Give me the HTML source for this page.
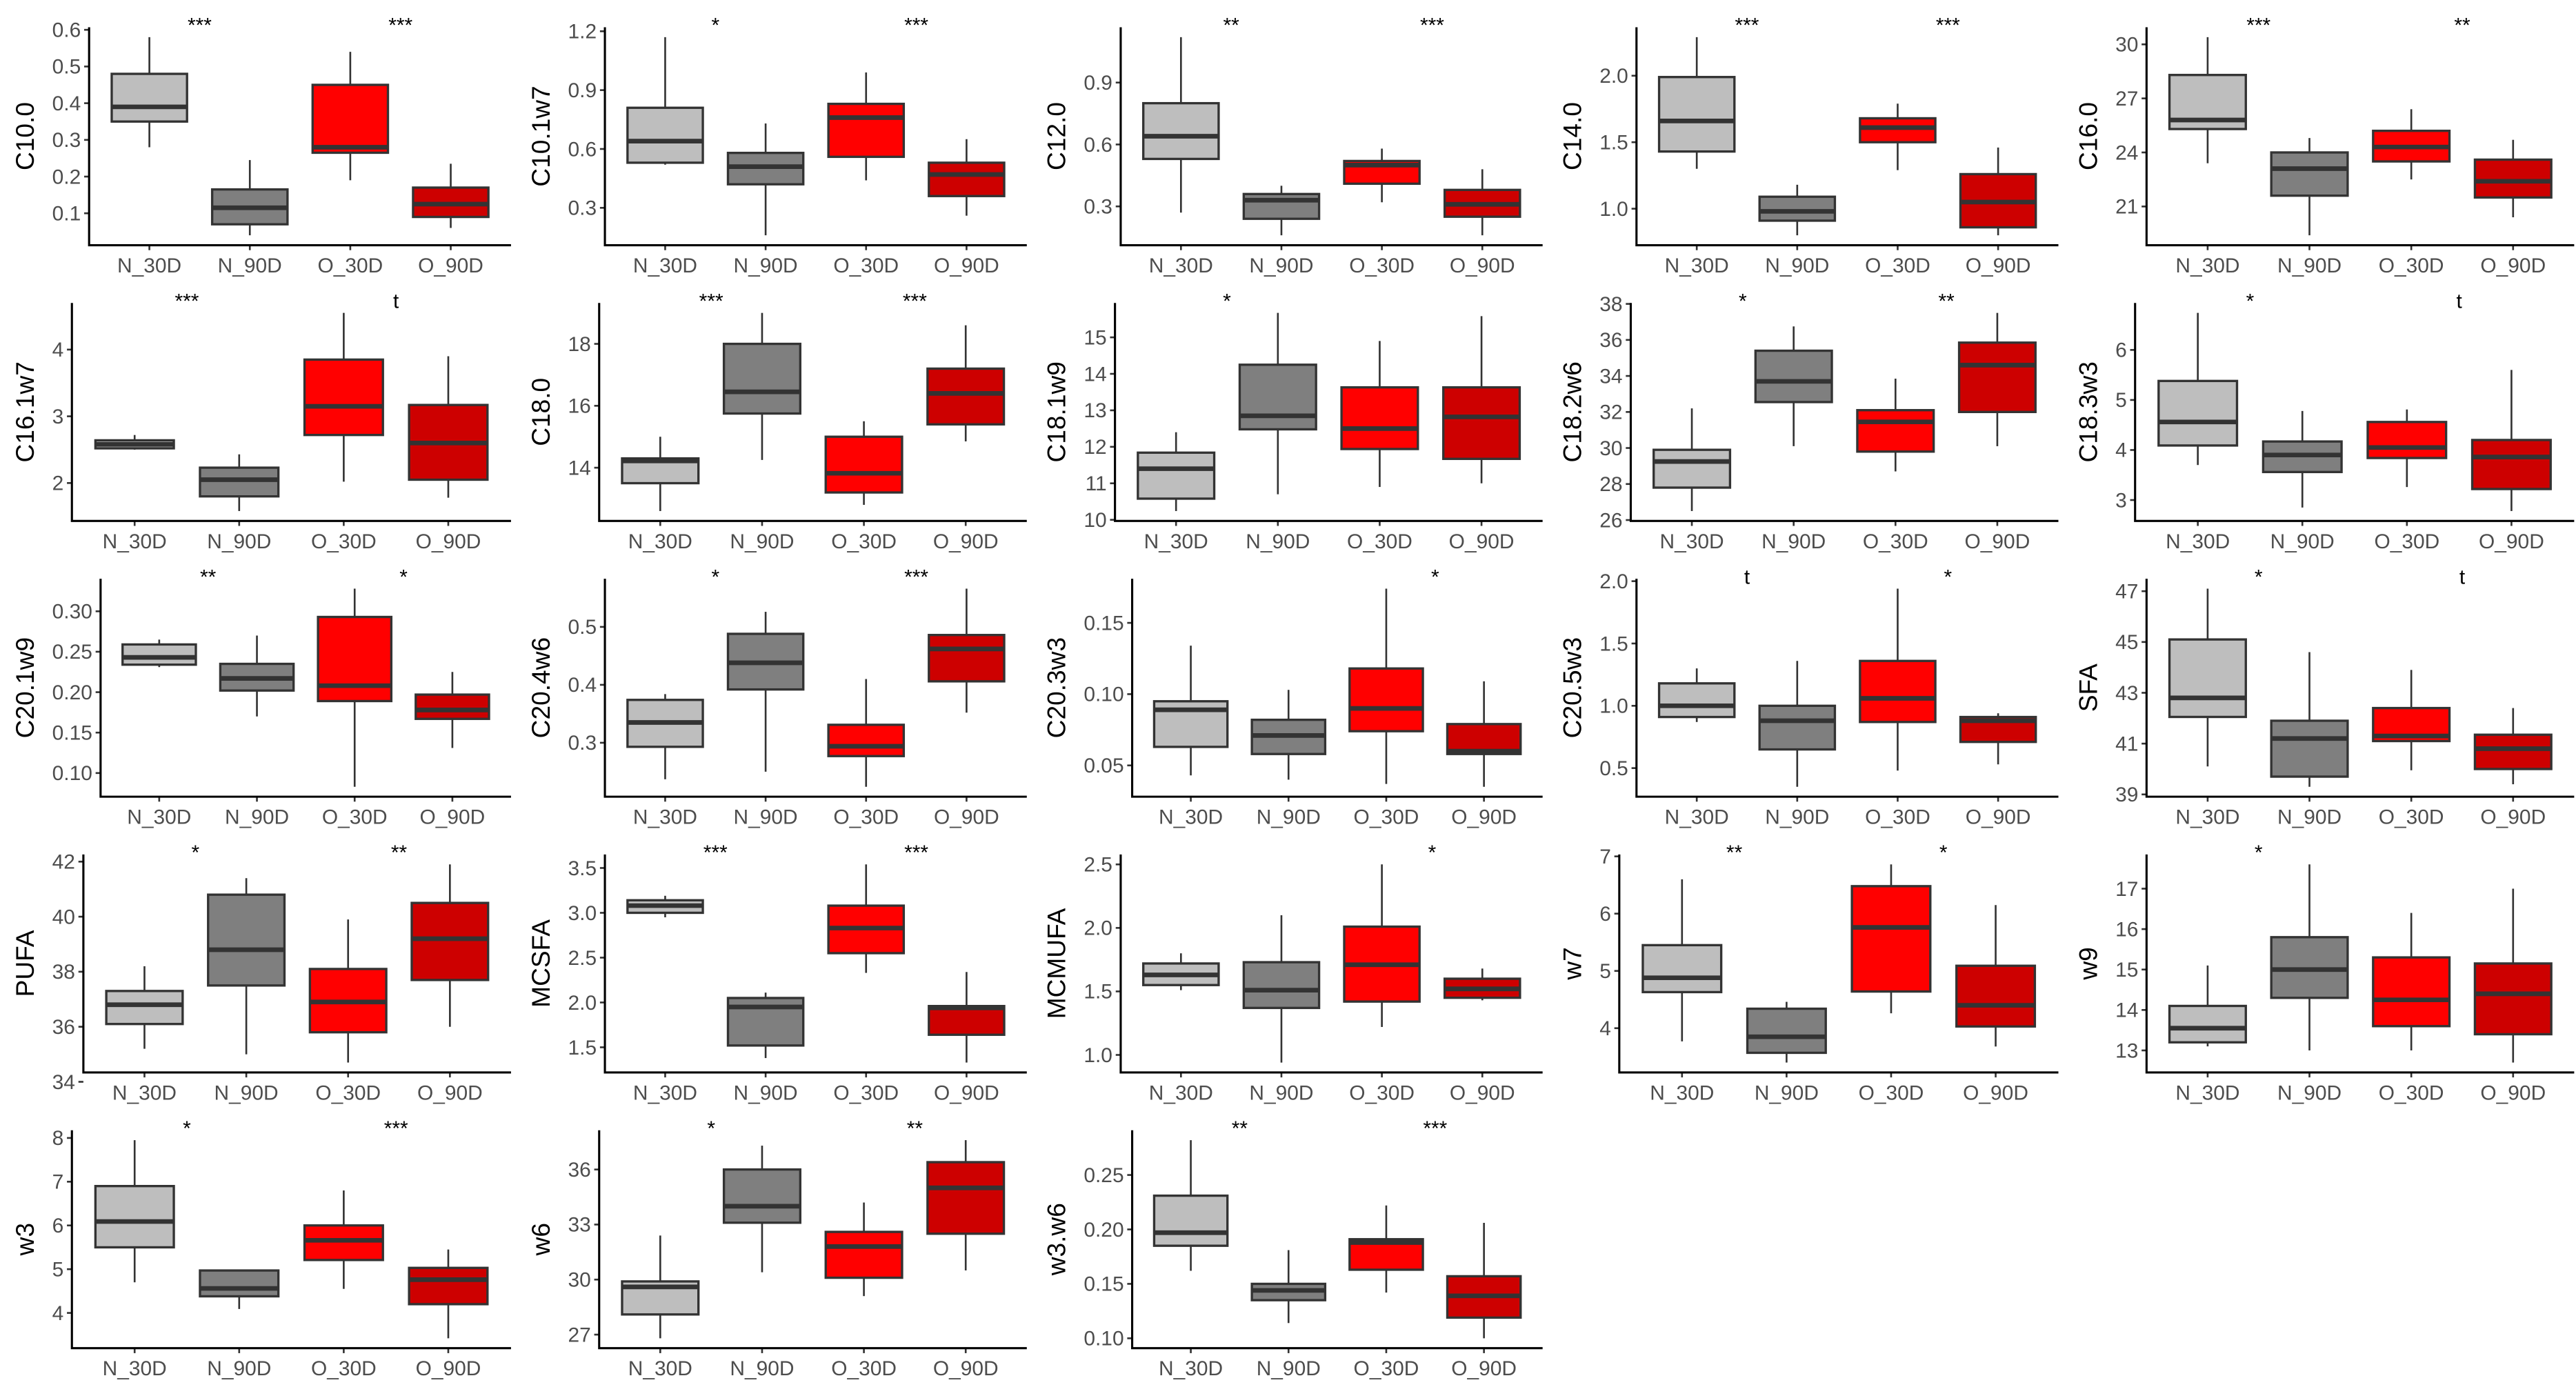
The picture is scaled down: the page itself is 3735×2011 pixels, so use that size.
<!DOCTYPE html>
<html><head><meta charset="utf-8"><style>
html,body{margin:0;padding:0;background:#fff;}
svg{display:block;}
</style></head><body>
<svg id="chart" width="3735" height="2011" viewBox="0 0 1560.2 840" preserveAspectRatio="none" xmlns="http://www.w3.org/2000/svg"></svg>
<script>
const categories = ["N_30D","N_90D","O_30D","O_90D"];
const fills = ["#bebebe","#7f7f7f","#ff0000","#cd0000"];
const panelNames = ["C10.0","C10.1w7","C12.0","C14.0","C16.0","C16.1w7","C18.0","C18.1w9","C18.2w6","C18.3w3","C20.1w9","C20.4w6","C20.3w3","C20.5w3","SFA","PUFA","MCSFA","MCMUFA","w7","w9","w3","w6","w3.w6"];
const yTicks = [
 ["0.1","0.2","0.3","0.4","0.5","0.6"],["0.3","0.6","0.9","1.2"],["0.3","0.6","0.9"],["1.0","1.5","2.0"],["21","24","27","30"],
 ["2","3","4"],["14","16","18"],["10","11","12","13","14","15"],["26","28","30","32","34","36","38"],["3","4","5","6"],
 ["0.10","0.15","0.20","0.25","0.30"],["0.3","0.4","0.5"],["0.05","0.10","0.15"],["0.5","1.0","1.5","2.0"],["39","41","43","45","47"],
 ["34","36","38","40","42"],["1.5","2.0","2.5","3.0","3.5"],["1.0","1.5","2.0","2.5"],["4","5","6","7"],["13","14","15","16","17"],
 ["4","5","6","7","8"],["27","30","33","36"],["0.10","0.15","0.20","0.25"]];
const lowW = [
 [.28,.04,.19,.06],[.52,.16,.44,.26],[.27,.16,.32,.16],[1.30,.80,1.29,.80],[23.4,19.4,22.5,20.4],
 [2.5,1.58,2.02,1.78],[12.6,14.25,12.8,14.85],[10.24,10.7,10.9,11.0],[26.5,30.1,28.7,30.1],[3.7,2.85,3.26,2.78],
 [.231,.17,.083,.131],[.237,.25,.224,.352],[.043,.040,.037,.035],[.87,.35,.48,.53],[40.1,39.3,39.95,39.4],
 [35.2,35.0,34.7,36.0],[2.95,1.38,2.33,1.33],[1.51,.94,1.22,1.43],[3.77,3.4,4.26,3.68],[13.1,13.0,13.0,12.7],
 [4.7,4.09,4.55,3.42],[26.8,30.4,29.1,30.5],[.162,.114,.142,.10]];
const q1 = [
 [.35,.07,.265,.09],[.53,.42,.56,.36],[.53,.24,.41,.25],[1.43,.91,1.50,.86],[25.3,21.6,23.5,21.5],
 [2.52,1.8,2.72,2.05],[13.5,15.75,13.2,15.4],[10.58,12.48,11.94,11.67],[27.8,32.55,29.8,32.0],[4.09,3.56,3.84,3.22],
 [.234,.202,.189,.167],[.293,.392,.277,.406],[.063,.058,.074,.058],[.91,.65,.87,.71],[42.05,39.7,41.1,40.0],
 [36.1,37.5,35.8,37.7],[3.0,1.52,2.55,1.64],[1.55,1.37,1.42,1.45],[4.63,3.57,4.64,4.03],[13.2,14.3,13.6,13.4],
 [5.5,4.38,5.21,4.2],[28.1,33.1,30.1,32.5],[.185,.135,.163,.119]];
const med = [
 [.39,.115,.28,.125],[.64,.51,.76,.47],[.64,.33,.50,.31],[1.66,.98,1.61,1.05],[25.8,23.1,24.3,22.4],
 [2.58,2.05,3.15,2.6],[14.22,16.45,13.82,16.4],[11.4,12.85,12.5,12.82],[29.25,33.7,31.45,34.6],[4.56,3.9,4.05,3.86],
 [.243,.217,.208,.178],[.335,.438,.294,.462],[.089,.071,.09,.06],[1.0,.88,1.06,.88],[42.8,41.2,41.3,40.8],
 [36.8,38.8,36.9,39.2],[3.08,1.95,2.83,1.94],[1.63,1.51,1.71,1.52],[4.88,3.85,5.76,4.4],[13.55,15.0,14.25,14.4],
 [6.09,4.56,5.66,4.76],[29.6,34.0,31.8,35.0],[.197,.144,.188,.139]];
const q3 = [
 [.48,.165,.45,.17],[.81,.58,.83,.53],[.80,.36,.52,.38],[1.99,1.09,1.68,1.26],[28.3,24.0,25.2,23.6],
 [2.64,2.23,3.85,3.17],[14.3,18.0,15.0,17.2],[11.84,14.25,13.63,13.63],[29.9,35.4,32.1,35.85],[5.38,4.17,4.56,4.2],
 [.259,.235,.293,.197],[.374,.488,.331,.486],[.095,.082,.118,.079],[1.18,1.0,1.36,.91],[45.1,41.9,42.4,41.35],
 [37.3,40.8,38.1,40.5],[3.14,2.05,3.08,1.96],[1.72,1.73,2.01,1.6],[5.45,4.34,6.48,5.09],[14.1,15.8,15.3,15.15],
 [6.9,4.97,6.0,5.03],[29.9,36.0,32.6,36.4],[.231,.150,.191,.157]];
const highW = [
 [.58,.245,.54,.235],[1.17,.73,.99,.65],[1.12,.40,.58,.48],[2.29,1.18,1.79,1.46],[30.4,24.8,26.4,24.7],
 [2.72,2.43,4.55,3.9],[15.0,19.0,15.5,18.6],[12.4,15.67,14.9,15.58],[32.2,36.75,33.85,37.5],[6.74,4.78,4.81,5.6],
 [.265,.27,.328,.225],[.384,.526,.41,.566],[.134,.103,.174,.109],[1.30,1.36,1.94,.94],[47.1,44.6,43.9,42.4],
 [38.2,41.4,39.9,41.9],[3.19,2.11,3.54,2.34],[1.8,2.1,2.5,1.68],[6.6,4.46,6.86,6.15],[15.1,17.6,16.4,17.0],
 [7.95,4.99,6.8,5.45],[32.4,37.3,34.2,37.6],[.282,.181,.222,.206]];
const starsLeft  = ["***","*","**","***","***","***","***","*","*","*","**","*","","t","*","*","***","","**","*","*","*","**"];
const starsRight = ["***","***","***","***","**","t","***","","**","t","*","***","*","*","t","**","***","*","*","","***","**","***"];

const NS="http://www.w3.org/2000/svg";
const svg=document.getElementById('chart');
function mk(tag,attrs,parent){const e=document.createElementNS(NS,tag);for(const k in attrs)e.setAttribute(k,attrs[k]);(parent||svg).appendChild(e);return e;}
function textW(s){let w=0;for(const c of s)w+=(c==='.'?3.47:6.95);return w;}
const FONT='"Liberation Sans", Arial, sans-serif';

panelNames.forEach((name,p)=>{
  const r=Math.floor(p/5), c=p%5;
  const g=mk('g',{});
  
  
  const bottom=148.5+167*r, top=bottom-132;
  const maxW=Math.max(...yTicks[p].map(textW));
  const x0=54+312.4*c+(maxW-17.4);
  const xr=309.5+312.4*c;
  const s=(xr-x0)/4.2;
  let lo=Math.min(...lowW[p]), hi=Math.max(...highW[p]);
  const rg=hi-lo; const dmin=lo-0.05*rg, dmax=hi+0.05*rg;
  const ys=v=>bottom-(v-dmin)/(dmax-dmin)*(bottom-top);
  const xs=k=>x0+(0.6+k)*s;
  // y ticks
  yTicks[p].forEach(t=>{
    const y=ys(parseFloat(t));
    const tk=mk('line',{x1:x0-3,x2:x0,y1:y,y2:y,stroke:'#333',"stroke-width":1.1},g);
    
    
    const tl=mk('text',{x:x0-5,y:y+4.3,"text-anchor":"end","font-size":12.5,fill:'#4d4d4d',"font-family":FONT},g);
    tl.textContent=t;
    
    
  });
  // boxes
  categories.forEach((cat,k)=>{
    const cx=xs(k), bw=0.75*s;
    const bg=mk('g',{},g);
    
    
    mk('line',{x1:cx,x2:cx,y1:ys(highW[p][k]),y2:ys(q3[p][k]),stroke:'#333',"stroke-width":1.1},bg);
    mk('line',{x1:cx,x2:cx,y1:ys(q1[p][k]),y2:ys(lowW[p][k]),stroke:'#333',"stroke-width":1.1},bg);
    mk('rect',{x:cx-bw/2,y:ys(q3[p][k]),width:bw,height:Math.max(0.5,ys(q1[p][k])-ys(q3[p][k])),fill:fills[k],stroke:'#333',"stroke-width":1.4},bg);
    mk('line',{x1:cx-bw/2,x2:cx+bw/2,y1:ys(med[p][k]),y2:ys(med[p][k]),stroke:'#333',"stroke-width":2.8},bg);
    mk('line',{x1:cx,x2:cx,y1:bottom,y2:bottom+3,stroke:'#333',"stroke-width":1.1},g);
    const xl=mk('text',{x:cx,y:bottom+16.5,"text-anchor":"middle","font-size":12.5,fill:'#4d4d4d',"font-family":FONT},g);
    xl.textContent=cat;
    
    
  });
  // axes
  const ax=mk('path',{d:`M${x0} ${top} L${x0} ${bottom} L${xr} ${bottom}`,fill:'none',stroke:'#000',"stroke-width":1.3},g);
  
  
  // y title
  const ty=(top+bottom)/2, tx=15+312.4*c;
  const tt=mk('text',{x:tx,y:ty,transform:`rotate(-90 ${tx} ${ty})`,"text-anchor":"middle","dominant-baseline":"central","font-size":15.5,fill:'#000',"font-family":FONT},g);
  tt.textContent=name;
  
  
  // stars
  [[starsLeft[p],(xs(0)+xs(1))/2],[starsRight[p],(xs(2)+xs(3))/2]].forEach(([lab,sx])=>{
    if(!lab)return;
    const st=mk('text',{x:sx,y:top+3,"text-anchor":"middle","font-size":12.5,fill:'#000',"font-family":FONT},g);
    st.textContent=lab;
    
    
  });
});
</script>
</body></html>
